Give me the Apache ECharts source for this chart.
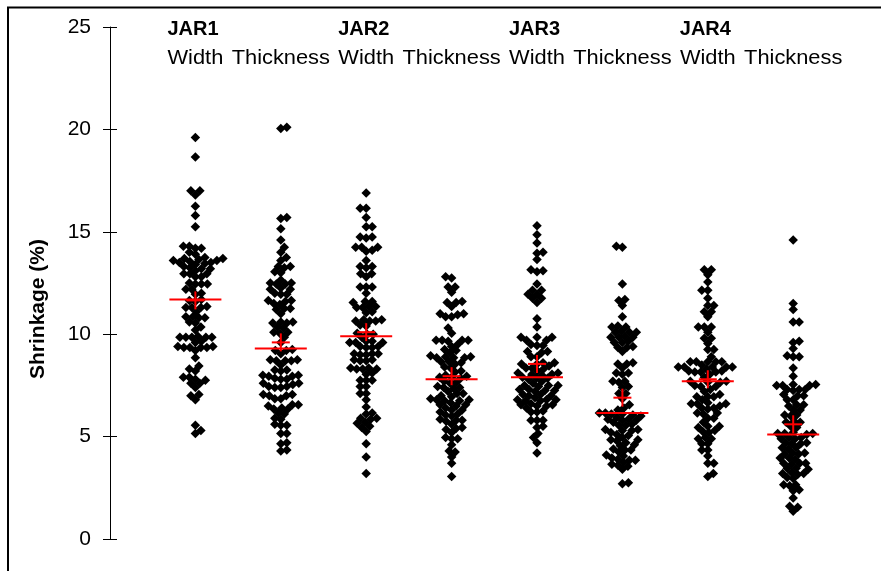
<!DOCTYPE html>
<html>
<head>
<meta charset="utf-8">
<title>Shrinkage by JAR</title>
<script src="https://cdn.jsdelivr.net/npm/echarts/dist/echarts.min.js"></script>
<style>
  html, body { margin: 0; padding: 0; background: #fff; }
  #chart { width: 881px; height: 571px; }
</style>
</head>
<body>
<div id="chart"></div>
<script>
// Group labels
const jars = ['JAR1', 'JAR2', 'JAR3', 'JAR4'];
const dims = ['Width', 'Thickness'];

// Shrinkage (%) per specimen, one list per column
const jar1Width = [19.6, 18.65, 17.0, 17.0, 16.8, 16.25, 15.8, 15.25, 14.3, 14.3, 14.2, 14.2, 14.0, 13.9, 13.75, 13.7, 13.7, 13.65, 13.6, 13.6, 13.55, 13.5, 13.5, 13.45, 13.4, 13.3, 13.25, 13.2, 13.2, 13.1, 12.95, 12.95, 12.95, 12.8, 12.8, 12.5, 12.45, 12.45, 12.45, 12.2, 12.2, 12.0, 11.95, 11.7, 11.65, 11.6, 11.35, 11.3, 11.3, 11.3, 11.1, 10.85, 10.85, 10.8, 10.8, 10.6, 10.55, 10.35, 10.2, 9.9, 9.85, 9.85, 9.85, 9.85, 9.85, 9.65, 9.6, 9.4, 9.4, 9.35, 9.35, 9.35, 9.35, 9.2, 8.85, 8.45, 8.3, 8.2, 7.9, 7.9, 7.8, 7.75, 7.6, 7.6, 7.4, 7.05, 7.0, 6.8, 5.55, 5.3, 5.15];
const jar1Thickness = [20.1, 20.05, 15.7, 15.65, 15.15, 14.6, 14.25, 14.0, 13.75, 13.6, 13.3, 13.3, 13.25, 13.05, 13.0, 12.65, 12.5, 12.5, 12.45, 12.45, 12.25, 12.2, 12.2, 12.0, 11.95, 11.95, 11.65, 11.65, 11.6, 11.5, 11.45, 11.25, 11.25, 11.2, 11.0, 10.6, 10.6, 10.55, 10.55, 10.35, 10.3, 10.1, 10.1, 10.05, 9.85, 9.6, 9.25, 9.2, 9.2, 9.05, 8.75, 8.75, 8.7, 8.7, 8.7, 8.5, 8.25, 8.25, 8.2, 8.0, 8.0, 7.95, 7.95, 7.85, 7.8, 7.8, 7.6, 7.6, 7.55, 7.45, 7.45, 7.4, 7.4, 7.05, 7.05, 7.0, 7.0, 6.85, 6.85, 6.55, 6.55, 6.5, 6.4, 6.35, 6.35, 6.15, 6.1, 5.9, 5.85, 5.6, 5.55, 5.55, 5.15, 5.15, 4.7, 4.65, 4.35, 4.3];
const jar2Width = [16.9, 16.15, 16.15, 15.7, 15.25, 15.25, 14.75, 14.75, 14.7, 14.25, 14.25, 14.25, 14.1, 14.05, 13.6, 13.3, 13.3, 13.25, 12.95, 12.95, 12.8, 12.3, 12.3, 12.3, 12.0, 11.6, 11.6, 11.55, 11.35, 11.35, 11.3, 11.3, 11.1, 11.05, 10.7, 10.7, 10.65, 10.65, 10.65, 10.45, 10.4, 10.05, 10.0, 10.0, 9.85, 9.65, 9.65, 9.6, 9.6, 9.6, 9.4, 9.4, 9.35, 9.35, 9.05, 9.05, 9.05, 9.0, 9.0, 8.75, 8.75, 8.7, 8.7, 8.35, 8.35, 8.3, 8.3, 8.3, 8.1, 8.05, 7.75, 7.75, 7.75, 7.45, 7.45, 7.1, 7.1, 6.8, 6.45, 6.15, 6.1, 5.9, 5.9, 5.85, 5.7, 5.65, 5.5, 5.45, 5.25, 4.65, 4.0, 3.2];
const jar2Thickness = [12.8, 12.75, 12.3, 12.3, 12.05, 11.6, 11.55, 11.55, 11.35, 11.0, 11.0, 10.95, 10.85, 10.85, 10.3, 10.05, 9.7, 9.7, 9.7, 9.7, 9.65, 9.5, 9.4, 9.25, 9.2, 9.1, 8.95, 8.9, 8.9, 8.85, 8.85, 8.85, 8.65, 8.65, 8.6, 8.55, 8.4, 8.35, 8.2, 8.15, 8.0, 7.95, 7.9, 7.9, 7.85, 7.7, 7.65, 7.6, 7.45, 7.4, 7.4, 7.35, 7.2, 7.1, 7.1, 7.0, 6.95, 6.85, 6.8, 6.8, 6.75, 6.75, 6.65, 6.55, 6.55, 6.5, 6.4, 6.3, 6.3, 6.2, 6.1, 6.05, 6.0, 5.85, 5.8, 5.8, 5.75, 5.6, 5.45, 5.4, 5.35, 5.2, 4.95, 4.9, 4.9, 4.6, 4.3, 4.25, 4.0, 3.7, 3.05];
const jar3Width = [15.3, 14.85, 14.45, 14.0, 13.95, 13.65, 13.15, 13.1, 13.05, 12.45, 12.15, 12.15, 11.95, 11.95, 11.75, 11.75, 11.55, 10.75, 10.35, 9.85, 9.85, 9.85, 9.7, 9.7, 9.5, 9.45, 9.45, 9.15, 9.15, 9.1, 8.9, 8.9, 8.6, 8.6, 8.55, 8.55, 8.45, 8.35, 8.35, 8.3, 8.2, 8.1, 8.1, 8.05, 8.05, 8.0, 7.9, 7.85, 7.85, 7.8, 7.7, 7.6, 7.5, 7.5, 7.5, 7.45, 7.3, 7.3, 7.25, 7.25, 7.2, 7.05, 7.05, 7.0, 7.0, 6.9, 6.8, 6.8, 6.8, 6.75, 6.75, 6.6, 6.55, 6.55, 6.5, 6.5, 6.4, 6.25, 6.2, 6.2, 5.8, 5.8, 5.8, 5.5, 5.45, 5.15, 4.95, 4.7, 4.2];
const jar3Thickness = [14.3, 14.25, 12.45, 11.7, 11.65, 11.4, 10.85, 10.4, 10.35, 10.35, 10.15, 10.1, 10.1, 10.1, 9.9, 9.85, 9.85, 9.85, 9.65, 9.6, 9.6, 9.4, 9.35, 9.35, 9.15, 8.6, 8.55, 8.55, 8.35, 8.1, 8.1, 8.05, 7.7, 7.7, 7.65, 7.45, 7.4, 7.1, 7.1, 6.85, 6.55, 6.4, 6.3, 6.15, 6.15, 6.1, 6.1, 6.05, 6.0, 5.95, 5.85, 5.85, 5.8, 5.8, 5.7, 5.6, 5.55, 5.55, 5.35, 5.35, 5.3, 5.3, 5.2, 5.1, 5.05, 4.95, 4.85, 4.85, 4.8, 4.7, 4.6, 4.55, 4.4, 4.35, 4.35, 4.25, 4.1, 4.05, 3.95, 3.9, 3.85, 3.85, 3.75, 3.65, 3.6, 3.55, 3.4, 2.75, 2.7];
const jar4Width = [13.15, 13.15, 12.9, 12.55, 12.15, 12.15, 11.75, 11.4, 11.4, 11.1, 11.1, 10.85, 10.35, 10.35, 10.35, 10.1, 9.8, 9.8, 9.55, 9.25, 9.25, 8.9, 8.65, 8.65, 8.65, 8.65, 8.65, 8.5, 8.4, 8.4, 8.4, 8.4, 8.4, 8.3, 8.2, 8.2, 8.15, 8.15, 8.15, 8.05, 7.9, 7.7, 7.7, 7.65, 7.65, 7.5, 7.45, 7.45, 7.3, 7.2, 7.05, 6.95, 6.95, 6.95, 6.8, 6.65, 6.6, 6.6, 6.6, 6.5, 6.4, 6.4, 6.35, 6.15, 6.15, 6.1, 5.9, 5.9, 5.7, 5.5, 5.5, 5.45, 5.3, 5.25, 5.2, 4.95, 4.9, 4.9, 4.65, 4.65, 4.35, 4.35, 4.05, 3.7, 3.7, 3.2, 3.05];
const jar4Thickness = [14.6, 11.5, 11.2, 10.6, 10.6, 9.65, 9.6, 9.3, 8.95, 8.9, 8.9, 8.35, 7.95, 7.55, 7.55, 7.5, 7.5, 7.5, 7.3, 7.3, 7.3, 7.25, 7.05, 7.0, 7.0, 6.8, 6.8, 6.55, 6.55, 6.5, 6.3, 6.3, 6.05, 6.05, 6.0, 5.75, 5.7, 5.7, 5.5, 5.45, 5.2, 5.15, 5.15, 5.15, 5.1, 4.95, 4.95, 4.9, 4.9, 4.7, 4.7, 4.65, 4.65, 4.45, 4.45, 4.4, 4.2, 4.2, 4.15, 4.15, 3.95, 3.95, 3.9, 3.7, 3.7, 3.7, 3.65, 3.45, 3.45, 3.4, 3.25, 3.2, 3.2, 3.15, 3.0, 2.95, 2.65, 2.65, 2.6, 2.4, 2.35, 2.0, 1.6, 1.55, 1.35];

// Column summaries: median (red bar) and mean (red cross)
const medians = [11.7, 9.3, 9.9, 7.8, 7.9, 6.15, 7.7, 5.1];
const means = [11.65, 9.6, 10.1, 7.95, 8.55, 6.9, 7.8, 5.6];

// Y axis ticks
const yTicks = [0, 5, 10, 15, 20, 25];

const columns = [jar1Width, jar1Thickness, jar2Width, jar2Thickness,
                 jar3Width, jar3Thickness, jar4Width, jar4Thickness];

// Plot geometry (pixels)
const GRID_LEFT = 110, GRID_TOP = 27, GRID_H = 512, COL_STEP = 85.4;
const X_MAX = 9;
const PX_PER_Y = GRID_H / (yTicks[yTicks.length - 1] - yTicks[0]);
const DOT = 9.5;        // diamond size
const SPREAD = 6;       // minimum spacing between dot centres in the swarm

// Beeswarm layout: place each dot as close to the column centre as
// possible without crowding already placed dots.
function swarm(values) {
  const pts = values.map(v => ({ v, y: v * PX_PER_Y })).sort((a, b) => a.y - b.y);
  const placed = [];
  pts.forEach((p, k) => {
    let off = null;
    for (let s = 0; s < 80 && off === null; s += 0.5) {
      const cands = s === 0 ? [0] : (k % 2 ? [s, -s] : [-s, s]);
      for (const dx of cands) {
        const ok = placed.every(q => {
          const ddy = q.y - p.y;
          if (Math.abs(ddy) >= SPREAD) return true;
          const ddx = q.x - dx;
          return ddx * ddx + ddy * ddy >= SPREAD * SPREAD;
        });
        if (ok) { off = dx; break; }
      }
    }
    p.x = off;
    placed.push(p);
  });
  return pts;
}

const dotData = [];
columns.forEach((vals, i) => {
  swarm(vals).forEach(p => dotData.push([i + 1 + p.x / COL_STEP, p.v]));
});

const medianData = medians.map((m, i) => [i + 1, m]);
const meanData = means.map((m, i) => [i + 1, m]);

const chart = echarts.init(document.getElementById('chart'), null, { renderer: 'canvas' });

const axisFont = { fontFamily: '"Liberation Sans", Arial, sans-serif', color: '#000' };

chart.setOption({
  animation: false,
  backgroundColor: '#fff',
  grid: { left: GRID_LEFT, top: GRID_TOP, width: COL_STEP * X_MAX, height: GRID_H },
  xAxis: { type: 'value', min: 0, max: X_MAX, show: false },
  yAxis: [
    {
      type: 'value', min: yTicks[0], max: yTicks[yTicks.length - 1], interval: 5,
      axisLine: { show: true, lineStyle: { color: '#000', width: 1 } },
      axisTick: { show: true, inside: false, length: 7, lineStyle: { color: '#000', width: 1 } },
      axisLabel: Object.assign({ fontSize: 21, margin: 19 }, axisFont),
      splitLine: { show: false }
    },
    {
      type: 'value', position: 'left', min: yTicks[0], max: yTicks[yTicks.length - 1], interval: 5,
      axisLine: { show: false },
      axisTick: { show: true, inside: true, length: 7, lineStyle: { color: '#000', width: 1 } },
      axisLabel: { show: false },
      splitLine: { show: false }
    }
  ],
  series: [
    {
      type: 'scatter',
      data: dotData,
      symbol: 'diamond',
      symbolSize: DOT,
      itemStyle: { color: '#000', opacity: 1 },
      z: 2
    },
    {
      type: 'custom',
      data: medianData,
      z: 5,
      renderItem: (params, api) => {
        const p = api.coord([api.value(0), api.value(1)]);
        return {
          type: 'line',
          shape: { x1: p[0] - 26, y1: p[1], x2: p[0] + 26, y2: p[1] },
          style: { stroke: '#ff0000', lineWidth: 2 }
        };
      }
    },
    {
      type: 'custom',
      data: meanData,
      z: 6,
      renderItem: (params, api) => {
        const p = api.coord([api.value(0), api.value(1)]);
        return {
          type: 'group',
          children: [
            { type: 'line', shape: { x1: p[0] - 9, y1: p[1], x2: p[0] + 9, y2: p[1] },
              style: { stroke: '#ff0000', lineWidth: 2 } },
            { type: 'line', shape: { x1: p[0], y1: p[1] - 9, x2: p[0], y2: p[1] + 9 },
              style: { stroke: '#ff0000', lineWidth: 2 } }
          ]
        };
      }
    }
  ]
});

// Header labels above each pair of columns, plus frame and axis title
const graphics = [
  {
    type: 'rect', silent: true, z: 0,
    shape: { x: 8, y: 7.5, width: 1000, height: 1000 },
    style: { fill: null, stroke: '#000', lineWidth: 2 }
  },
  {
    type: 'text', silent: true,
    x: 38, y: 309, rotation: Math.PI / 2,
    style: {
      text: 'Shrinkage (%)', fill: '#000',
      font: 'bold 21px "Liberation Sans", Arial, sans-serif',
      textAlign: 'center', textVerticalAlign: 'middle'
    }
  }
];
columns.forEach((vals, i) => {
  const cx = chart.convertToPixel({ gridIndex: 0 }, [i + 1, 0])[0];
  graphics.push({
    type: 'text', silent: true,
    x: cx, y: 58.5, scaleX: 1.12,
    style: {
      text: dims[i % 2], fill: '#000',
      font: '19.5px "Liberation Sans", Arial, sans-serif',
      textAlign: 'center', textVerticalAlign: 'middle'
    }
  });
  if (i % 2 === 0) {
    graphics.push({
      type: 'text', silent: true,
      x: cx - 28, y: 29,
      style: {
        text: jars[i / 2], fill: '#000',
        font: 'bold 20px "Liberation Sans", Arial, sans-serif',
        textAlign: 'left', textVerticalAlign: 'middle'
      }
    });
  }
});
chart.setOption({ graphic: graphics });
</script>
</body>
</html>
